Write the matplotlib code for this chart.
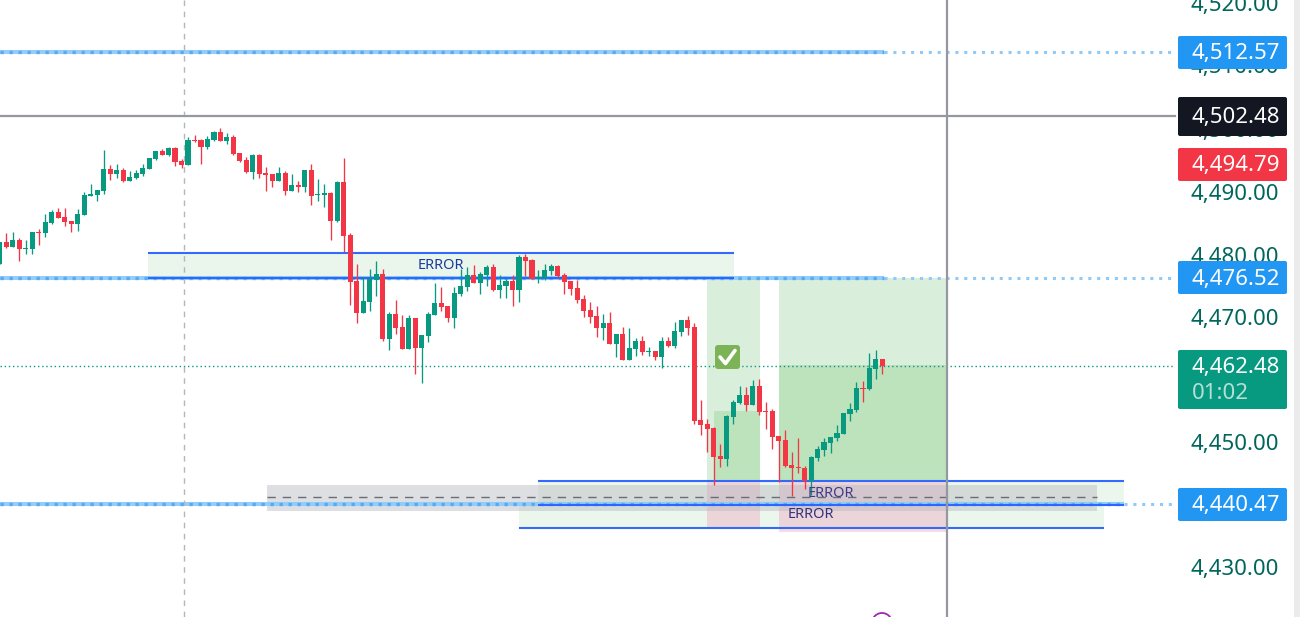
import matplotlib
matplotlib.use("Agg")
import matplotlib.pyplot as plt
from matplotlib.patches import Rectangle, FancyBboxPatch, Circle
from matplotlib.lines import Line2D

plt.rcParams['font.family'] = ['Noto Sans', 'DejaVu Sans']

# OHLC, bar by bar
opens = [4478.55,4482.05,4481.26,4482.37,4480.94,4480.94,4483.64,4483.48,4485.07,4486.82,4486.03,4485.39,4484.91,4486.34,4489.37,4489.52,4490.16,4493.66,4492.86,4493.50,4491.75,4492.23,4492.86,4493.66,4495.25,4496.52,4495.88,4497.00,4494.93,4494.29,
4498.27,4498.27,4497.16,4498.27,4499.54,4498.11,4498.75,4496.20,4495.09,4493.18,4495.88,4493.02,4492.86,4491.75,4493.02,4490.16,4491.11,4490.80,4493.50,4489.52,4489.52,4489.84,4485.39,4491.59,4483.16,4475.85,
4470.76,4472.51,4476.01,4476.96,4466.63,4470.60,4468.54,4465.04,4469.97,4465.20,4467.11,4470.44,4472.35,4471.88,4469.97,4473.78,4474.90,4476.80,4475.53,4476.80,4478.08,4474.42,4475.06,4475.85,4474.42,4479.67,4479.19,4476.17,4476.33,4477.44,4478.24,4476.80,4475.85,4474.74,4472.99,4471.24,4470.29,4468.38,4469.17,4465.83,4467.42,4463.29,4465.04,4466.31,4464.56,4464.72,4463.77,4466.31,4465.52,4467.74,4469.65,
4468.54,4453.75,4453.11,4452.48,4448.03,4447.55,4454.23,4456.45,4457.72,4456.13,4459.16,4455.18,4455.18,4451.21,4450.57,4446.59,4446.28,4446.12,4444.05,4447.71,4448.98,4450.09,4450.89,4451.52,4454.70,4455.34,4458.84,4458.68,4461.86,4463.45]
highs = [4482.05,4483.48,4483.64,4482.69,4482.37,4483.64,4484.12,4486.50,4487.14,4487.46,4487.46,4485.39,4487.30,4490.00,4491.27,4490.32,4496.68,4494.29,4494.45,4493.82,4493.34,4493.50,4494.45,4495.41,4496.52,4496.84,4497.16,4497.16,4495.25,4498.75,
4499.06,4498.43,4498.91,4499.70,4500.18,4499.38,4499.06,4496.20,4495.57,4496.04,4496.04,4493.98,4492.86,4493.98,4493.34,4492.86,4491.75,4493.50,4494.45,4492.07,4491.27,4490.00,4491.75,4495.41,4483.48,4478.55,
4476.49,4477.76,4479.03,4477.76,4470.92,4472.83,4470.44,4470.44,4469.97,4467.26,4470.92,4475.53,4474.90,4471.88,4474.90,4477.76,4478.08,4478.39,4477.28,4478.39,4478.55,4476.80,4476.17,4476.80,4479.98,4480.14,4479.35,4477.60,4478.55,4478.55,4478.39,4477.12,4475.85,4476.01,4473.62,4472.51,4471.88,4470.60,4470.92,4467.42,4468.54,4468.38,4466.79,4467.11,4465.36,4464.72,4466.95,4466.95,4469.33,4469.65,4470.29,
4469.17,4456.93,4453.91,4452.64,4449.93,4454.54,4456.93,4459.16,4459.00,4460.11,4460.27,4456.61,4455.50,4451.21,4452.16,4448.66,4450.89,4446.44,4448.03,4449.62,4450.89,4451.05,4452.95,4454.86,4456.45,4459.79,4459.95,4464.40,4464.88,4463.45]
lows = [4478.55,4481.10,4481.26,4479.03,4480.14,4480.14,4481.57,4482.85,4484.91,4485.87,4484.60,4483.64,4483.80,4486.34,4489.37,4488.57,4489.68,4491.91,4492.23,4491.59,4491.75,4492.07,4492.55,4493.66,4495.09,4495.88,4495.73,4494.14,4493.82,4494.29,
4497.95,4494.45,4496.84,4498.11,4498.11,4497.63,4495.88,4494.77,4493.02,4492.07,4492.23,4490.16,4490.80,4491.75,4489.52,4490.16,4490.00,4490.00,4487.93,4488.57,4487.62,4482.37,4485.23,4480.46,4472.03,4469.17,
4470.76,4471.08,4473.47,4466.31,4464.88,4467.42,4465.04,4465.04,4461.06,4459.63,4466.15,4470.44,4471.08,4469.33,4468.38,4473.47,4474.26,4475.53,4473.78,4475.06,4474.26,4473.15,4473.15,4471.88,4472.51,4476.65,4476.17,4475.53,4476.01,4476.80,4476.33,4473.78,4473.62,4472.35,4470.13,4469.17,4466.95,4466.47,4465.83,4463.77,4463.29,4463.29,4463.93,4464.08,4463.93,4463.29,4462.02,4465.36,4465.20,4467.11,4467.26,
4453.11,4451.36,4448.66,4443.41,4446.28,4446.44,4453.11,4456.29,4455.18,4456.13,4454.54,4452.32,4449.14,4443.89,4446.28,4441.67,4445.32,4442.78,4441.82,4447.23,4448.03,4448.50,4450.41,4451.52,4453.59,4455.02,4456.61,4458.52,4460.27,4461.06]
closes = [4482.05,4481.26,4482.37,4480.94,4481.10,4483.64,4483.48,4485.23,4486.82,4485.87,4485.23,4484.91,4486.50,4489.52,4489.68,4490.32,4493.66,4492.86,4493.50,4491.75,4492.39,4493.02,4493.82,4495.41,4496.52,4495.88,4497.00,4494.77,4494.29,4498.27,
4498.11,4497.16,4498.43,4499.54,4498.11,4498.75,4496.04,4494.93,4493.18,4495.88,4492.86,4492.70,4491.75,4493.02,4490.16,4491.11,4490.80,4493.50,4489.37,4489.68,4489.84,4485.39,4491.59,4483.01,4475.69,4470.76,
4472.67,4476.17,4476.96,4466.63,4470.60,4468.38,4465.04,4469.97,4465.20,4467.26,4470.60,4472.35,4471.72,4469.97,4473.94,4475.06,4476.80,4475.53,4476.96,4478.08,4474.42,4475.21,4475.85,4474.42,4479.67,4479.03,4476.17,4476.49,4477.60,4478.24,4476.65,4475.69,4474.58,4472.83,4471.08,4470.13,4468.38,4469.17,4465.83,4467.42,4463.29,4465.20,4466.31,4464.56,4464.72,4463.77,4466.31,4465.52,4467.90,4469.65,4468.38,
4453.59,4452.95,4452.32,4447.87,4447.55,4454.39,4456.61,4457.72,4456.13,4459.16,4455.02,4455.02,4451.05,4450.41,4446.44,4446.12,4446.17,4444.05,4447.87,4449.14,4450.25,4451.05,4451.68,4454.86,4455.50,4458.84,4458.68,4462.02,4463.45,4462.34]

tick_values = [4520, 4510, 4500, 4490, 4480, 4470, 4460, 4450, 4440, 4430]
tick_labels = ["4,520.00", "4,510.00", "4,500.00", "4,490.00", "4,480.00", "4,470.00", "4,460.00", "4,450.00", "4,440.00", "4,430.00"]

level_prices = [4512.26, 4476.33, 4440.40]
level_labels = ["4,512.57", "4,476.52", "4,440.47"]
crosshair_price = 4502.08
crosshair_label = "4,502.48"
prev_label = "4,494.79"
last_price = 4462.41
last_label = "4,462.48"
countdown = "01:02"

W, H = 1300, 617
UP, DOWN = "#089981", "#F23645"
BLUE = "#2962FF"
TICK = "#00665C"

fig = plt.figure(figsize=(W / 100, H / 100), dpi=100)
ax = fig.add_axes([0, 0, 1, 1])
BAR = 6.49
X0 = -0.2
PXU = 0.159
ax.set_xlim((0 - X0) / BAR, (W - X0) / BAR)
ax.set_ylim(4490 - (H - 192) * PXU, 4490 + 192 * PXU)
ax.axis("off")

def px(x):
    return (x - X0) / BAR

def py(y):
    return 4490 + (192 - y) * PXU

def rect(x0, y0, x1, y1, color, alpha=1.0, z=1):
    ax.add_patch(Rectangle((px(x0), py(y1)), px(x1) - px(x0), py(y0) - py(y1),
                           facecolor=color, edgecolor="none", alpha=alpha, zorder=z))

def hline(x0, x1, y, **kw):
    ax.plot([px(x0), px(x1)], [y, y], **kw)

# zones
rect(148, 253, 734, 278, "#E8F5E9", alpha=0.9, z=1.0)
rect(538, 481, 1124, 504, "#E8F5E9", alpha=0.85, z=1.0)
rect(519, 504, 1104, 528, "#E8F5E9", alpha=0.85, z=1.0)

# trade boxes
rect(707, 278, 760, 480, "#DAEEDC", z=1.1)
rect(714, 411, 760, 480, "#BDE3BD", z=1.15)
rect(707, 480, 760, 528, "#EBD5D9", z=1.1)
rect(779, 278, 947, 365, "#DAEEDC", z=1.1)
rect(779, 365, 947, 480, "#BDE3BD", z=1.1)
rect(779, 480, 947, 528, "#EBD5D9", z=1.1)
rect(779, 528, 947, 532, "#F8DCE3", z=1.1)

rect(267, 485, 1097, 511, "#B2B5BE", alpha=0.42, z=1.3)
hline(267, 1097, py(497), color="#6A6D78", lw=1.0, ls=(0, (6, 5)), zorder=2)

# levels
for p, end in zip(level_prices, (884, 884, 1124)):
    hline(0, end, p, color="#90CAF9", lw=2.9, alpha=0.95, zorder=2, solid_capstyle="butt")
    hline(0, end, p, color="#42A5F5", lw=2.4, ls=(0, (1, 1.7)), alpha=0.8, zorder=2.1)
    hline(end, 1175, p, color="#90CAF9", lw=2.2, ls=(0, (1, 1.9)), zorder=2)

# zone borders
for x0, x1, y in [(148, 734, 253), (148, 734, 278), (538, 1124, 481),
                  (538, 1124, 504.5), (519, 1104, 528)]:
    hline(x0, x1, py(y), color=BLUE, lw=1.5, alpha=0.95, zorder=2.3, solid_capstyle="butt")

# crosshair and guides
ax.plot([px(184), px(184)], [py(0), py(H)], color="#B4B6BC", lw=1.0, ls=(0, (4, 4)), zorder=2)
hline(0, 1175, last_price, color=UP, lw=1.0, ls=(0, (1, 2)), zorder=2.2)
hline(0, 1175, crosshair_price, color="#9598A1", lw=1.6, zorder=2.4)
ax.plot([px(947), px(947)], [py(0), py(H)], color="#9598A1", lw=1.6, zorder=4)

# candles
for i, (o, h, l, c) in enumerate(zip(opens, highs, lows, closes)):
    col = UP if c >= o else DOWN
    ax.plot([i, i], [l, h], color=col, lw=0.95, zorder=3, solid_capstyle="butt")
    top, bot = max(o, c), min(o, c)
    ax.add_patch(Rectangle((i - 0.39, bot), 0.78, max(top - bot, 0.16),
                           facecolor=col, edgecolor="none", zorder=3.1))

# labels in the chart
text_kw = dict(ha="center", va="center", fontsize=10.5, fontweight="semibold", zorder=5)
ax.text(px(441), py(265), "ERROR", color="#1A3A9C", **text_kw)
ax.text(px(831), py(493), "ERROR", color="#3F3A8C", **text_kw)
ax.text(px(811), py(515), "ERROR", color="#35307F", **text_kw)

# check badge
badge = FancyBboxPatch((715, H - 369), 25, 24, boxstyle="round,pad=0,rounding_size=3",
                       transform=None, facecolor="#7CB356", edgecolor="none", zorder=5)
fig.add_artist(badge)
fig.add_artist(Line2D([720, 725.5, 735], [H - 357, H - 363.5, H - 350.5], transform=None,
                      color="white", lw=2.6, zorder=6, solid_capstyle="round"))

# partly visible circle
fig.add_artist(Circle((882, H - 623), 10, transform=None, facecolor="none",
                      edgecolor="#9C27B0", lw=1.3, zorder=5))

# right scale
fig.add_artist(Rectangle((1294, 0), 6, H, transform=None, facecolor="#EBEBEB",
                         edgecolor="none", zorder=5))
tick_fs = 16
tick_px = [3, 66, 129, 192, 255, 317, 380, 442, 505, 568]
for v, lab, yp in zip(tick_values, tick_labels, tick_px):
    ax.text(px(1279), py(yp + 2), lab, color=TICK, ha="right", va="center", fontsize=tick_fs, zorder=5)

def label_box(y0, y1, col, text, yt):
    fig.add_artist(FancyBboxPatch((1178, H - y1), 109, y1 - y0,
                                  boxstyle="round,pad=0,rounding_size=2", transform=None,
                                  facecolor=col, edgecolor="none", zorder=7))
    fig.text(1279.5 / W, 1 - (yt + 2) / H, text, color="white", ha="right", va="center",
             fontsize=tick_fs, fontweight="semibold", zorder=8)

label_box(36, 69, "#2196F3", level_labels[0], 52)
label_box(97, 136, "#131722", crosshair_label, 116)
label_box(148, 181, "#F23645", prev_label, 164)
label_box(261, 294, "#2196F3", level_labels[1], 277.5)
label_box(350, 409, "#089981", last_label, 366)
label_box(488, 521, "#2196F3", level_labels[2], 504)
fig.text(1192 / W, 1 - 393.5 / H, countdown, color="#B5E0D8", ha="left", va="center",
         fontsize=tick_fs, zorder=8)

fig.savefig("out.png", dpi=100)
